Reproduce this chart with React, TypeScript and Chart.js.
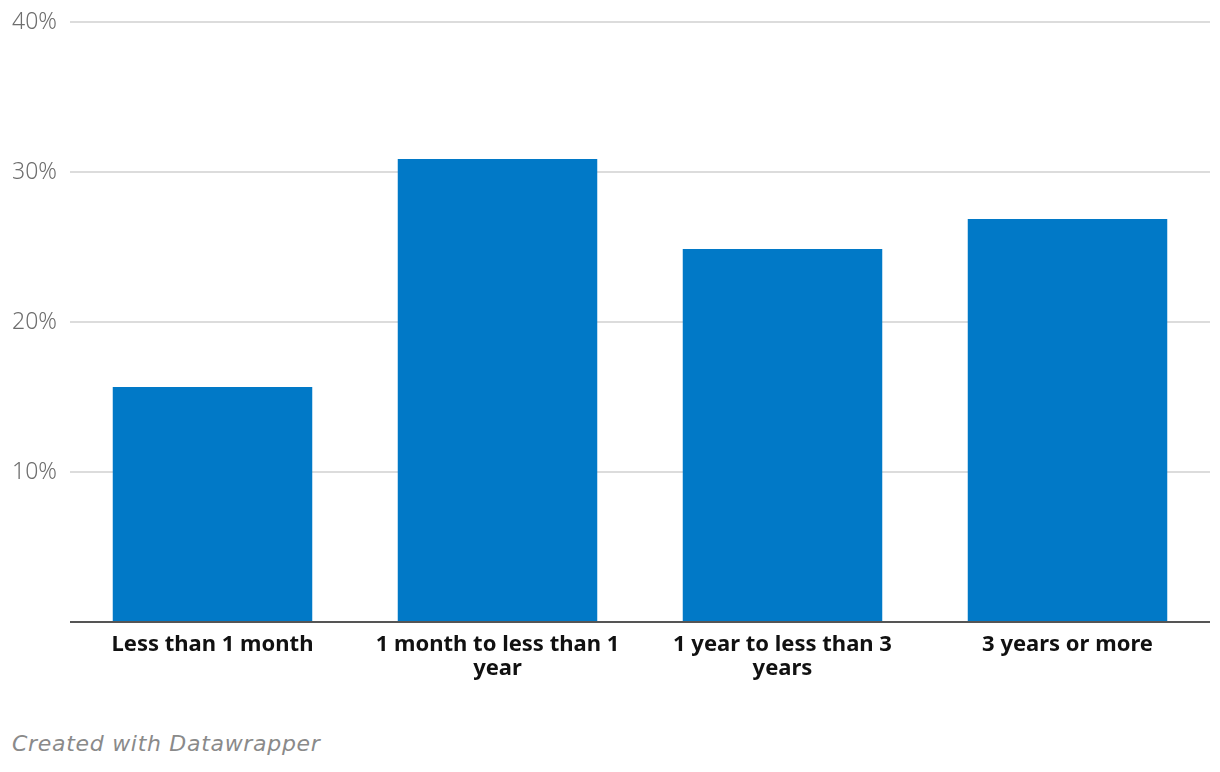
import React, { useEffect, useRef } from "react";
import { Chart, registerables } from "chart.js";

Chart.register(...registerables);

const categories: (string | string[])[] = [
  "Less than 1 month",
  ["1 month to less than 1", "year"],
  ["1 year to less than 3", "years"],
  "3 years or more",
];
const shares = [15.67, 30.87, 24.87, 26.87];
const yTicks = [0, 10, 20, 30, 40];

export default function App() {
  const ref = useRef<HTMLCanvasElement | null>(null);

  useEffect(() => {
    if (!ref.current) return;
    const chart = new Chart(ref.current, {
      type: "bar",
      data: {
        labels: categories,
        datasets: [
          {
            data: shares,
            backgroundColor: "#0179c7",
            borderWidth: 0,
            categoryPercentage: 0.7,
            barPercentage: 1,
          },
        ],
      },
      options: {
        responsive: false,
        animation: false,
        devicePixelRatio: 1,
        layout: { padding: { top: 22, right: 10, bottom: 0, left: 0 } },
        plugins: {
          legend: { display: false },
          tooltip: { enabled: false },
        },
        scales: {
          x: {
            grid: { display: false, drawTicks: false },
            border: { display: false },
            ticks: {
              color: "#111",
              padding: 11,
              maxRotation: 0,
              autoSkip: false,
              font: { family: "'Noto Sans', sans-serif", size: 22, weight: "bold", lineHeight: 1.08 },
            },
            afterFit: (s: any) => {
              s.height = 78;
              s.paddingLeft = 0;
              s.paddingRight = 0;
            },
          },
          y: {
            min: 0,
            max: 40,
            afterBuildTicks: (s: any) => {
              s.ticks = yTicks.map((v) => ({ value: v }));
            },
            grid: {
              drawTicks: false,
              color: (ctx: any) => (ctx.tick && ctx.tick.value === 0 ? "#555555" : "#dcdcdc"),
              lineWidth: 2,
            },
            border: { display: false },
            ticks: {
              padding: 13,
              color: "#6e6e6e",
              font: { family: "'Noto Sans', sans-serif", size: 23, weight: 300 },
              callback: (v: any) => (Number(v) === 0 ? "" : v + "%"),
            },
            afterFit: (s: any) => {
              s.width = 70;
              s.paddingTop = 0;
              s.paddingBottom = 0;
            },
          },
        },
      },
    });
    return () => chart.destroy();
  }, []);

  return (
    <div style={{ position: "fixed", left: 0, top: 0, width: 1220, height: 772, background: "#fff" }}>
      <canvas ref={ref} width={1220} height={700} style={{ display: "block" }} />
      <div
        style={{
          position: "absolute",
          left: 12,
          top: 729,
          fontFamily: "'DejaVu Sans', sans-serif",
          fontStyle: "italic",
          fontSize: 22,
          letterSpacing: 0.7,
          color: "#8a8a8a",
          lineHeight: "30px",
        }}
      >
        Created with Datawrapper
      </div>
    </div>
  );
}
